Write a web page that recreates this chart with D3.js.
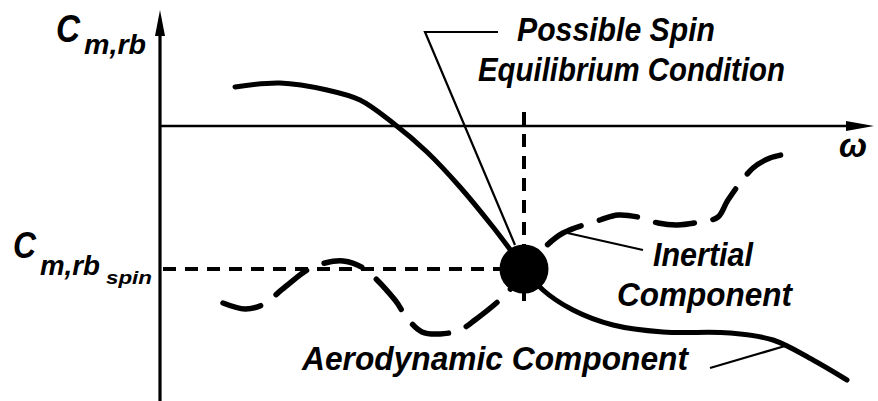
<!DOCTYPE html>
<html>
<head>
<meta charset="utf-8">
<script src="https://cdn.jsdelivr.net/npm/d3@7"></script>
<style>
  html, body { margin: 0; padding: 0; background: #fff; }
  svg { display: block; }
  text { font-family: "Liberation Sans Narrow", "Liberation Sans", Arial, sans-serif; font-style: italic; font-weight: bold; fill: #000; }
</style>
</head>
<body>
<svg id="chart" width="878" height="401"></svg>
<script>
// ---- data (schematic units: omega along x, C_m,rb along y) ----
const omegaDomain = [0, 7.18];
const cmDomain = [-2.75, 1.16];

// Aerodynamic component (solid curve)
const aeroOmega = [0.75, 1.20, 1.67, 2.00, 2.33, 2.67, 3.00, 3.33, 3.62, 3.83, 4.13, 4.53, 5.03, 5.70, 6.13, 6.53, 6.87];
const aeroCm    = [0.39, 0.43, 0.36, 0.26, 0.03, -0.26, -0.61, -1.01, -1.39, -1.64, -1.84, -1.99, -2.06, -2.07, -2.14, -2.34, -2.54];

// Inertial component (dashed curve)
const inertOmega = [0.63, 0.85, 1.02, 1.25, 1.47, 1.65, 1.83, 2.03, 2.35, 2.47, 2.62, 2.80, 3.00, 3.15, 3.47, 3.64, 3.85, 4.03, 4.40, 4.58, 4.78, 4.98, 5.17, 5.40, 5.58, 5.68, 5.93, 6.10, 6.32];
const inertCm    = [-1.77, -1.83, -1.79, -1.61, -1.44, -1.37, -1.35, -1.42, -1.74, -1.92, -2.06, -2.08, -2.04, -1.94, -1.67, -1.44, -1.21, -1.07, -0.94, -0.89, -0.91, -0.97, -0.99, -0.96, -0.91, -0.74, -0.42, -0.32, -0.27];

// Possible spin equilibrium point
const spinOmega = 3.64;
const spinCm = -1.43;
const spinVertTop = 0.14;
const spinVertBottom = -1.84;

// Annotation leader lines
const eqLeaderOmega = [3.38, 2.65, 3.55];
const eqLeaderCm    = [0.94, 0.94, -1.19];
const inertLeaderOmega = [4.03, 4.83];
const inertLeaderCm    = [-1.06, -1.24];
const aeroLeaderOmega = [5.50, 6.25];
const aeroLeaderCm    = [-2.42, -2.20];

// Text labels
const labelTexts = ["Possible Spin", "Equilibrium Condition", "Inertial", "Component", "Aerodynamic Component"];
const labelOmega = [3.57, 3.18, 4.93, 4.57, 1.42];
const labelCm    = [0.85, 0.45, -1.40, -1.80, -2.44];
const labelLen   = [198, 307, 100, 175, 386];

// ---- drawing ----
const svg = d3.select("#chart");
const x = d3.scaleLinear().domain(omegaDomain).range([160, 878]);
const y = d3.scaleLinear().domain(cmDomain).range([401, 10]);

// axes (library axes, no ticks)
const xAxis = d3.axisBottom(x).tickValues([]).tickSizeOuter(0);
const yAxis = d3.axisLeft(y).tickValues([]).tickSizeOuter(0);
const gx = svg.append("g").attr("transform", `translate(0,${y(0)})`).call(xAxis);
gx.select(".domain").attr("stroke", "#000").attr("stroke-width", 2.6)
  .attr("d", `M${x(0)},0H${x(omegaDomain[1]) - 20}`);
const gy = svg.append("g").attr("transform", `translate(${x(0)},0)`).call(yAxis);
gy.select(".domain").attr("stroke", "#000").attr("stroke-width", 3.2)
  .attr("d", `M0,${y(cmDomain[0])}V${y(cmDomain[1]) + 18}`);

// arrowheads
const yTipX = x(0), yTipY = y(cmDomain[1]);
svg.append("path")
  .attr("d", `M${yTipX},${yTipY} L${yTipX + 5},${yTipY + 26} L${yTipX - 5},${yTipY + 26} Z`)
  .attr("fill", "#000");
const xTipX = x(omegaDomain[1]) - 4, xTipY = y(0);
svg.append("path")
  .attr("d", `M${xTipX},${xTipY} L${xTipX - 28},${xTipY - 5} L${xTipX - 28},${xTipY + 5} Z`)
  .attr("fill", "#000");

// reference dashed lines to equilibrium point
svg.append("line")
  .attr("x1", x(0) + 3).attr("y1", y(spinCm))
  .attr("x2", x(spinOmega)).attr("y2", y(spinCm))
  .attr("stroke", "#000").attr("stroke-width", 4).attr("stroke-dasharray", "13 9");
svg.append("line")
  .attr("x1", x(spinOmega)).attr("y1", y(spinVertTop))
  .attr("x2", x(spinOmega)).attr("y2", y(spinVertBottom))
  .attr("stroke", "#000").attr("stroke-width", 4).attr("stroke-dasharray", "13 9");

const line = d3.line().x(d => x(d[0])).y(d => y(d[1])).curve(d3.curveCatmullRom.alpha(0.5));

// aerodynamic component
svg.append("path")
  .datum(aeroOmega.map((w, i) => [w, aeroCm[i]]))
  .attr("d", line)
  .attr("fill", "none").attr("stroke", "#000").attr("stroke-width", 5)
  .attr("stroke-linecap", "round");

// inertial component
svg.append("path")
  .datum(inertOmega.map((w, i) => [w, inertCm[i]]))
  .attr("d", line)
  .attr("fill", "none").attr("stroke", "#000").attr("stroke-width", 5.5)
  .attr("stroke-dasharray", "39 19").attr("stroke-linecap", "round");

// leader lines
const straight = d3.line().x(d => x(d[0])).y(d => y(d[1]));
[[eqLeaderOmega, eqLeaderCm], [inertLeaderOmega, inertLeaderCm], [aeroLeaderOmega, aeroLeaderCm]]
  .forEach(([ws, cs]) => {
    svg.append("path")
      .datum(ws.map((w, i) => [w, cs[i]]))
      .attr("d", straight)
      .attr("fill", "none").attr("stroke", "#000").attr("stroke-width", 2.2);
  });

// equilibrium point
svg.append("circle")
  .attr("cx", x(spinOmega)).attr("cy", y(spinCm)).attr("r", 24.5)
  .attr("fill", "#000");

// annotation labels
labelTexts.forEach((t, i) => {
  svg.append("text")
    .attr("x", x(labelOmega[i])).attr("y", y(labelCm[i]))
    .attr("font-size", 34)
    .attr("textLength", labelLen[i]).attr("lengthAdjust", "spacingAndGlyphs")
    .text(t);
});

// axis labels
const yLab = svg.append("g");
yLab.append("text").attr("x", 56).attr("y", 42).attr("font-size", 38)
  .attr("textLength", 24).attr("lengthAdjust", "spacingAndGlyphs").text("C");
yLab.append("text").attr("x", 84).attr("y", 54).attr("font-size", 27)
  .attr("textLength", 62).attr("lengthAdjust", "spacingAndGlyphs").text("m,rb");

const spinLab = svg.append("g");
spinLab.append("text").attr("x", 13).attr("y", y(spinCm) - 11).attr("font-size", 36)
  .attr("textLength", 23).attr("lengthAdjust", "spacingAndGlyphs").text("C");
spinLab.append("text").attr("x", 40).attr("y", y(spinCm) + 6).attr("font-size", 27)
  .attr("textLength", 60).attr("lengthAdjust", "spacingAndGlyphs").text("m,rb");
spinLab.append("text").attr("x", 106).attr("y", y(spinCm) + 15).attr("font-size", 19)
  .attr("textLength", 46).attr("lengthAdjust", "spacingAndGlyphs").text("spin");

svg.append("text").attr("x", 839).attr("y", 157).attr("font-size", 34)
  .attr("font-style", "normal")
  .attr("textLength", 28).attr("lengthAdjust", "spacingAndGlyphs").text("ω");
</script>
</body>
</html>
